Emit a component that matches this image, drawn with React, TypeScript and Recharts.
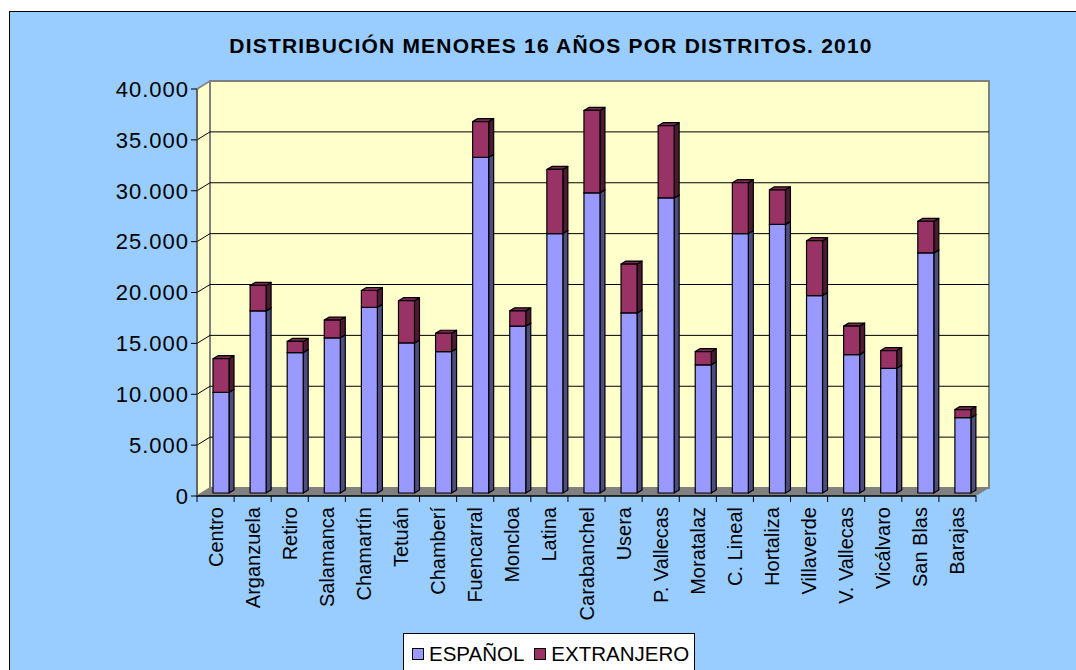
import React from "react";
import { BarChart, Bar, XAxis, YAxis, ReferenceArea, Legend } from "recharts";

const districts = [
  "Centro", "Arganzuela", "Retiro", "Salamanca", "Chamartín", "Tetuán", "Chamberí",
  "Fuencarral", "Moncloa", "Latina", "Carabanchel", "Usera", "P. Vallecas", "Moratalaz",
  "C. Lineal", "Hortaliza", "Villaverde", "V. Vallecas", "Vicálvaro", "San Blas", "Barajas",
];
const espanol = [
  9900, 17900, 13800, 15250, 18250, 14750, 13900, 33000, 16400, 25500, 29500,
  17700, 29000, 12600, 25500, 26400, 19400, 13600, 12250, 23600, 7400,
];
const extranjero = [
  3300, 2500, 1100, 1750, 1650, 4150, 1800, 3500, 1500, 6300, 8100,
  4800, 7100, 1300, 5000, 3400, 5400, 2800, 1750, 3100, 800,
];
const yTicks = [0, 5000, 10000, 15000, 20000, 25000, 30000, 35000, 40000];

const data = districts.map((district, i) => ({
  district,
  espanol: espanol[i],
  extranjero: extranjero[i],
}));

// depth of the fake 3d box (back wall offset) and of each bar
const DX = 13;
const DY = 8;
const BDX = 5;
const BDY = 3;

const fmt = (v: number) => v.toLocaleString("de-DE");

function Wall(props: any) {
  const { x, y, width, height } = props;
  const bottom = y + height;
  const right = x + width;
  return (
    <g>
      {/* floor */}
      <polygon
        points={`${x},${bottom} ${x + DX},${bottom - DY} ${right + DX},${bottom - DY} ${right},${bottom}`}
        fill="#808080"
      />
      {/* side wall */}
      <polygon
        points={`${x},${y} ${x + DX},${y - DY} ${x + DX},${bottom - DY} ${x},${bottom}`}
        fill="#FFFFCC"
        stroke="#808080"
        strokeWidth={1.5}
      />
      {/* back wall */}
      <rect x={x + DX} y={y - DY} width={width} height={height} fill="#FFFFCC" stroke="#808080" strokeWidth={2} />
      {yTicks.slice(1, -1).map((t) => {
        const ty = bottom - (height * t) / 40000;
        return (
          <polyline
            key={t}
            points={`${x},${ty} ${x + DX},${ty - DY} ${right + DX},${ty - DY}`}
            fill="none"
            stroke="#000"
            strokeWidth={1}
          />
        );
      })}
    </g>
  );
}

function Bar3D(props: any) {
  const { x, y, width, height, fill, side, top } = props;
  if (!height || height <= 0) return null;
  const x0 = x + BDX;
  const y0 = y - BDY;
  return (
    <g stroke="#000" strokeWidth={1.2} strokeLinejoin="round">
      <polygon
        points={`${x0 + width},${y0} ${x0 + width + BDX},${y0 - BDY} ${x0 + width + BDX},${y0 + height - BDY} ${x0 + width},${y0 + height}`}
        fill={side}
      />
      <polygon
        points={`${x0},${y0} ${x0 + BDX},${y0 - BDY} ${x0 + width + BDX},${y0 - BDY} ${x0 + width},${y0}`}
        fill={top}
      />
      <rect x={x0} y={y0} width={width} height={height} fill={fill} />
    </g>
  );
}

function DistrictTick(props: any) {
  const { x, y, payload, index, visibleTicksCount } = props;
  const half = payload.offset || 18.5;
  const axisY = y - 8;
  return (
    <g>
      <line x1={x - half} y1={axisY} x2={x - half} y2={axisY + 6} stroke="#000" />
      {index === visibleTicksCount - 1 && (
        <line x1={x + half} y1={axisY} x2={x + half} y2={axisY + 6} stroke="#000" />
      )}
      <text
        transform={`translate(${x},${y + 3}) rotate(-90)`}
        textAnchor="end"
        dominantBaseline="central"
        fontSize={20}
        fill="#000"
      >
        {payload.value}
      </text>
    </g>
  );
}

function LegendBox(props: any) {
  const { payload } = props;
  return (
    <div
      style={{
        border: "1px solid #000",
        background: "#fff",
        height: 45,
        display: "flex",
        alignItems: "flex-start",
        paddingTop: 8,
        paddingLeft: 8,
        boxSizing: "border-box",
      }}
    >
      {(payload || []).map((p: any) => (
        <div key={p.value} style={{ display: "flex", alignItems: "center", marginRight: 10 }}>
          <span
            style={{
              width: 10,
              height: 10,
              background: p.color,
              border: "1px solid #000",
              marginRight: 5,
              display: "inline-block",
            }}
          />
          <span style={{ fontSize: 20.5, color: "#000", lineHeight: "24px" }}>{p.value}</span>
        </div>
      ))}
    </div>
  );
}

export default function App() {
  return (
    <div
      style={{
        position: "absolute",
        left: 0,
        top: 0,
        width: 1076,
        height: 670,
        background: "#fff",
        overflow: "hidden",
        fontFamily: '"Liberation Sans", Arial, sans-serif',
      }}
    >
      <div
        style={{
          position: "absolute",
          left: 9,
          top: 11,
          width: 1100,
          height: 700,
          background: "#99CCFF",
          border: "1.5px solid #000",
        }}
      />
      <div
        style={{
          position: "absolute",
          left: 551,
          top: 34,
          transform: "translateX(-50%)",
          whiteSpace: "nowrap",
          fontWeight: "bold",
          fontSize: 21,
          letterSpacing: 1.2,
          color: "#000",
        }}
      >
        DISTRIBUCIÓN MENORES 16 AÑOS POR DISTRITOS. 2010
      </div>
      <div style={{ position: "absolute", left: 0, top: 0 }}>
        <BarChart
          width={1076}
          height={670}
          data={data}
          margin={{ top: 89, right: 100, bottom: 54, left: 107 }}
          barSize={16}
        >
          <ReferenceArea y1={0} y2={40000} shape={<Wall />} ifOverflow="visible" zIndex={-100} />
          <XAxis
            dataKey="district"
            interval={0}
            height={120}
            tickSize={6}
            tickMargin={2}
            tickLine={false}
            axisLine={{ stroke: "#000", strokeWidth: 1.5 }}
            tick={<DistrictTick />}
          />
          <YAxis
            width={90}
            domain={[0, 40000]}
            ticks={yTicks}
            tickFormatter={fmt}
            tick={{ fill: "#000", fontSize: 22, letterSpacing: 1 }}
            tickLine={{ stroke: "#000" }}
            tickSize={6}
            axisLine={{ stroke: "#555", strokeWidth: 1.5 }}
          />
          <Legend
            layout="horizontal"
            verticalAlign="middle"
            align="center"
            wrapperStyle={{ left: 403, top: 633, width: 292 }}
            content={<LegendBox />}
          />
          <Bar
            dataKey="espanol"
            name="ESPAÑOL"
            stackId="a"
            fill="#9999FF"
            shape={<Bar3D side="#4D4D80" top="#7A7ACC" />}
            isAnimationActive={false}
          />
          <Bar
            dataKey="extranjero"
            name="EXTRANJERO"
            stackId="a"
            fill="#993366"
            shape={<Bar3D side="#4D1A33" top="#7A2952" />}
            isAnimationActive={false}
          />
        </BarChart>
      </div>
    </div>
  );
}
